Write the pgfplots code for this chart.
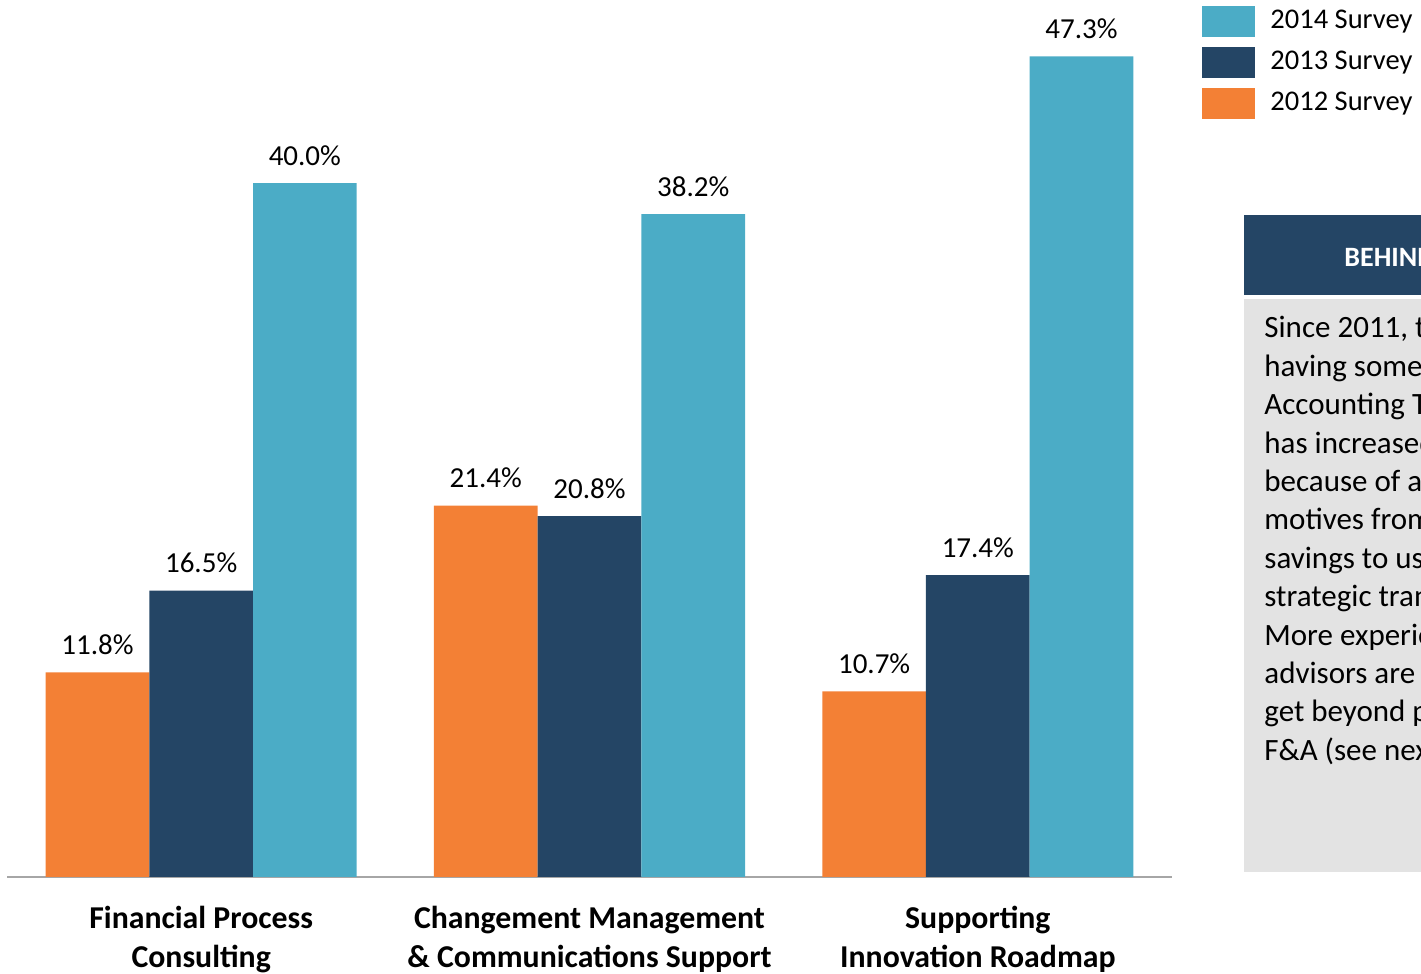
\documentclass[border=0pt]{standalone}
\usepackage{pgfplots}
\pgfplotsset{compat=1.18}
\usepackage{fontspec}
\setmainfont{Carlito}
\definecolor{cTeal}{HTML}{4BACC6}
\definecolor{cNavy}{HTML}{244565}
\definecolor{cOrange}{HTML}{F38035}
\definecolor{cBox}{HTML}{E3E3E3}
\definecolor{cAxis}{HTML}{A6A6A6}
\begin{document}
\begin{tikzpicture}
\useasboundingbox (0,0) rectangle (710.5pt,487pt);
\clip (0,0) rectangle (710.5pt,487pt);
\begin{axis}[
 at={(3.5pt,48.5pt)}, anchor=south west,
 scale only axis, width=582.5pt, height=438.5pt,
 xmin=-0.5, xmax=2.5, ymin=0, ymax=50.55,
 axis x line=bottom, axis y line=none,
 x axis line style={-, draw=cAxis, line width=1pt},
 xtick={0,1,2},
 xticklabels={{Financial Process\\Consulting},{Changement Management\\\& Communications Support},{Supporting\\Innovation Roadmap}},
 major tick length=0pt,
 xticklabel style={align=center, anchor=north, inner sep=0pt, yshift=-14.5pt, font=\bfseries\fontsize{15.9}{19.5}\selectfont},
 ytick=\empty,
 ybar, bar width=0.267,
 /pgf/number format/assume math mode=true,
 nodes near coords={\pgfmathprintnumber[fixed,fixed zerofill,precision=1]{\pgfplotspointmeta}\%},
 nodes near coords style={anchor=base, yshift=9pt, font=\fontsize{14.5}{17}\selectfont, text=black, inner sep=0pt},
 legend style={at={(1.0258,0.994)}, anchor=north west, draw=none, fill=none, inner sep=0pt, row sep=5pt, column sep=5.5pt, font=\fontsize{14.25}{17}\selectfont},
 legend cell align=left,
 reverse legend,
 legend image code/.code={\fill[#1] (0pt,-7.75pt) rectangle (26.5pt,7.75pt);},
]
\addplot[fill=cOrange, draw=none, bar shift=-0.267] coordinates {(0,11.8) (1,21.4) (2,10.7)};
\addplot[fill=cNavy, draw=none, bar shift=0] coordinates {(0,16.5) (1,20.8) (2,17.4)};
\addplot[fill=cTeal, draw=none, bar shift=0.267] coordinates {(0,40.0) (1,38.2) (2,47.3)};
\legend{2012 Survey, 2013 Survey, 2014 Survey}
\end{axis}
\fill[cNavy] (622pt,339.5pt) rectangle (720pt,379.5pt);
\fill[cBox] (622pt,51pt) rectangle (720pt,337.5pt);
\node[anchor=base west, text=white, font=\bfseries\fontsize{14}{17}\selectfont, inner sep=0pt] at (672pt,353.5pt) {BEHIND THE NUMBERS};
\foreach \t [count=\i from 0] in {{Since 2011, the percentage},{having some form of Finance},{Accounting Transformation},{has increased significantly},{because of a shift in},{motives from pure cost},{savings to using F\&A as a},{strategic transformation tool.},{More experienced},{advisors are helping clients},{get beyond process in},{F\&A (see next page).}}{
 \node[anchor=base west, font=\fontsize{15.5}{19}\selectfont, inner sep=0pt] at (632pt,{318pt-\i*19.2pt}) {\t};
}
\end{tikzpicture}
\end{document}
